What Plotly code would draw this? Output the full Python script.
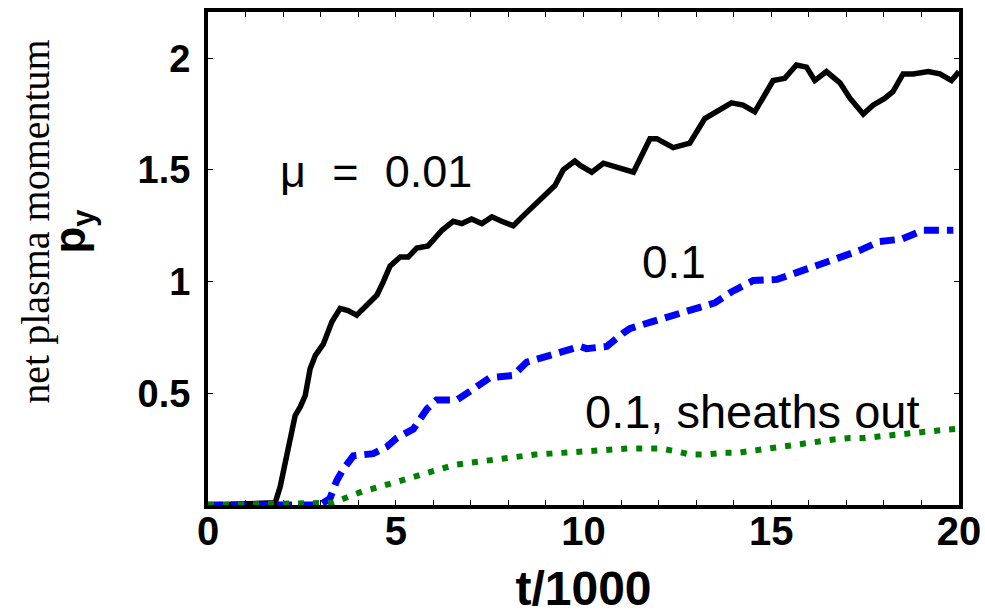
import plotly.graph_objects as go

# mu = 0.01 (black, solid)
t_black = [0, 1.79, 1.92, 2.19, 2.32, 2.46, 2.59, 2.72, 2.86, 3.07, 3.30, 3.52, 3.73, 3.96, 4.19, 4.50,
           4.67, 4.85, 5.12, 5.33, 5.56, 5.86, 6.23, 6.53, 6.76, 7.02, 7.29, 7.56, 7.82, 8.13, 8.49,
           8.80, 9.02, 9.24, 9.46, 9.77, 9.91, 10.22, 10.53, 10.88, 11.33, 11.77, 11.95, 12.39, 12.83,
           13.23, 13.63, 13.94, 14.25, 14.56, 15.05, 15.36, 15.67, 15.94, 16.16, 16.47, 16.83, 17.10,
           17.45, 17.71, 18.02, 18.24, 18.51, 18.78, 19.18, 19.49, 19.80, 20.0]
p_black = [0, 0.01, 0.08, 0.29, 0.40, 0.44, 0.49, 0.61, 0.67, 0.72, 0.82, 0.88, 0.87, 0.85, 0.89, 0.94,
           1.00, 1.07, 1.11, 1.11, 1.15, 1.16, 1.23, 1.27, 1.26, 1.28, 1.26, 1.29, 1.27, 1.25, 1.31,
           1.36, 1.40, 1.43, 1.50, 1.54, 1.52, 1.49, 1.53, 1.51, 1.49, 1.64, 1.64, 1.60, 1.62,
           1.73, 1.77, 1.80, 1.79, 1.76, 1.90, 1.91, 1.97, 1.96, 1.90, 1.94, 1.89, 1.82,
           1.75, 1.79, 1.82, 1.85, 1.93, 1.93, 1.94, 1.93, 1.90, 1.94]

# mu = 0.1 (blue, dashed)
t_blue = [0, 2.99, 3.25, 3.43, 3.60, 3.87, 4.40, 4.76, 5.03, 5.47, 5.83, 6.09, 6.63, 7.07, 7.51, 8.13,
          8.49, 9.11, 9.91, 10.08, 10.62, 11.06, 11.24, 11.81, 12.39, 12.92, 13.50, 13.95, 14.52,
          15.16, 15.67, 16.25, 16.83, 17.36, 17.89, 18.47, 19.04, 19.66, 19.85]
p_blue = [0, 0, 0.03, 0.11, 0.16, 0.22, 0.23, 0.26, 0.30, 0.34, 0.43, 0.47, 0.47, 0.52, 0.57, 0.58,
          0.64, 0.67, 0.71, 0.70, 0.71, 0.77, 0.79, 0.82, 0.85, 0.875, 0.905, 0.955, 1.005,
          1.01, 1.04, 1.07, 1.11, 1.14, 1.18, 1.19, 1.23, 1.23, 1.23]

# mu = 0.1, sheaths out (green, dotted)
t_green = [0, 3.34, 3.79, 4.10, 4.54, 4.94, 5.34, 5.74, 6.18, 6.58, 7.02, 7.42, 7.87, 8.27, 8.71,
           9.11, 9.55, 10.0, 10.39, 10.79, 11.19, 11.64, 12.04, 12.48, 12.83, 13.28, 13.72, 14.12,
           14.52, 14.96, 15.41, 15.81, 16.25, 16.65, 17.09, 17.49, 17.94, 18.33, 18.73, 19.18,
           19.71, 19.9]
p_green = [0, 0.01, 0.04, 0.06, 0.08, 0.10, 0.12, 0.14, 0.16, 0.18, 0.19, 0.20, 0.21, 0.215, 0.226,
           0.23, 0.236, 0.24, 0.245, 0.253, 0.253, 0.253, 0.253, 0.24, 0.226, 0.226, 0.234, 0.234,
           0.244, 0.253, 0.266, 0.274, 0.283, 0.293, 0.30, 0.30, 0.308, 0.316, 0.323, 0.33,
           0.338, 0.34]

x_ticks = [0, 5, 10, 15, 20]
y_ticks = [0.5, 1, 1.5, 2]
y_tick_text = ["0.5", "1", "1.5", "2"]

SANS = "Liberation Sans, Arial, sans-serif"
SERIF = "Liberation Serif, Times New Roman, serif"

fig = go.Figure()
fig.add_trace(go.Scatter(x=t_black, y=p_black, mode="lines", cliponaxis=False,
                         line=dict(color="black", width=5.5)))
fig.add_trace(go.Scatter(x=t_blue, y=p_blue, mode="lines", cliponaxis=False,
                         line=dict(color="#0000ff", width=7, dash="15px,8px")))
fig.add_trace(go.Scatter(x=t_green, y=p_green, mode="lines", cliponaxis=False,
                         line=dict(color="#008000", width=6, dash="6px,9px")))

annots = [
    dict(x=1.87, y=1.495, text="μ\u2002\u200a=\u2002\u200a0.01", xanchor="left", yanchor="middle",
         font=dict(family=SANS, size=45, color="black")),
    dict(x=11.5, y=1.09, text="0.1", xanchor="left", yanchor="middle",
         font=dict(family=SANS, size=46, color="black")),
    dict(x=9.99, y=0.42, text="0.1, sheaths out", xanchor="left", yanchor="middle",
         font=dict(family=SANS, size=47, color="black")),
]
for a in annots:
    fig.add_annotation(xref="x", yref="y", showarrow=False, **a)

fig.add_annotation(xref="paper", yref="paper", x=(72 - 208) / 751.6, y=(505.5 - 232) / 493,
                   text="<b>p<sub>y</sub></b>", textangle=-90, showarrow=False,
                   xanchor="center", yanchor="middle", font=dict(family=SANS, size=44, color="black"))
fig.add_annotation(xref="paper", yref="paper", x=(35 - 208) / 751.6, y=(505.5 - 222) / 493,
                   text="net plasma momentum", textangle=-90, showarrow=False,
                   xanchor="center", yanchor="middle", font=dict(family=SERIF, size=40, color="black"))

fig.update_layout(
    width=985, height=615,
    margin=dict(l=208, r=26, t=12, b=110),
    paper_bgcolor="white", plot_bgcolor="white",
    showlegend=False,
    xaxis=dict(range=[0, 20], tickvals=x_ticks, ticks="inside", ticklen=5, tickwidth=1,
               tickcolor="black", showline=True, linecolor="black", linewidth=4, mirror="ticks",
               showgrid=False, zeroline=False, layer="below traces", automargin=False,
               ticklabelstandoff=-12,
               minor=dict(dtick=1, ticks="inside", ticklen=5, tickwidth=1, tickcolor="black", showgrid=False),
               tickfont=dict(family=SANS, size=40, color="black", weight="bold"),
               title=dict(text="<b>t/1000</b>", font=dict(family=SANS, size=48, color="black"), standoff=20)),
    yaxis=dict(range=[0, 2.207], tickvals=y_ticks, ticktext=y_tick_text, ticks="inside", ticklen=5,
               tickwidth=1, tickcolor="black", showline=True, linecolor="black", linewidth=4,
               mirror="ticks", showgrid=False, zeroline=False, layer="below traces", automargin=False,
               ticklabelstandoff=6,
               tickfont=dict(family=SANS, size=38, color="black", weight="bold")),
)

fig.write_html("out.html")
